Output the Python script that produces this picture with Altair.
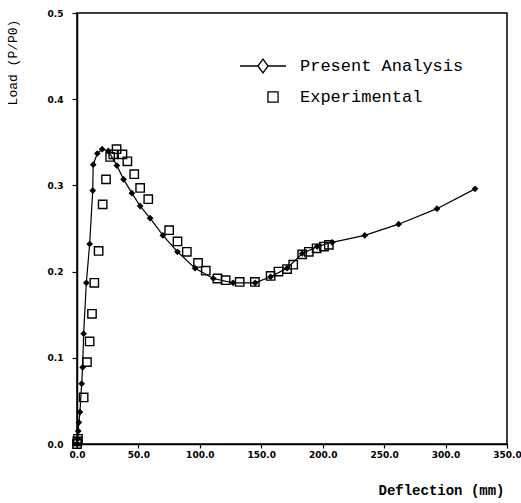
import altair as alt
import pandas as pd

# Present Analysis (line with diamonds)
pa_x = [0, 0.5, 1.0, 1.5, 2.4, 3.8, 4.6, 5.4, 7.6, 10.3, 12.8, 13.2, 16.5, 20.5, 25.5,
        32.5, 37.9, 44.7, 51.4, 59.5, 69.9, 81.8, 96.1, 111.0, 127.0, 145.0, 157.6,
        171.0, 183.3, 195.5, 207.7, 234.2, 261.8, 293.0, 324.0]
pa_y = [0.0, 0.006, 0.015, 0.025, 0.037, 0.070, 0.089, 0.128, 0.187, 0.232, 0.294, 0.324,
        0.337, 0.342, 0.340, 0.323, 0.307, 0.291, 0.276, 0.262, 0.242, 0.223, 0.204, 0.192,
        0.187, 0.187, 0.194, 0.204, 0.221, 0.229, 0.234, 0.242, 0.255, 0.273, 0.296]

# Experimental (open squares)
ex_x = [0, 0.3, 0.8, 5.4, 8.1, 10.3, 12.2, 14.1, 17.6, 20.9, 23.6, 27.0, 29.5, 32.2, 37.0,
        41.0, 46.6, 51.4, 58.0, 75.0, 81.8, 89.4, 98.5, 104.8, 114.3, 121.0, 132.4, 144.8,
        157.6, 164.0, 171.0, 176.0, 183.3, 188.7, 195.0, 201.0, 205.0]
ex_y = [0.0, 0.003, 0.006, 0.054, 0.095, 0.119, 0.151, 0.187, 0.224, 0.278, 0.307, 0.333,
        0.336, 0.342, 0.336, 0.328, 0.313, 0.297, 0.284, 0.248, 0.235, 0.223, 0.210, 0.201,
        0.192, 0.190, 0.188, 0.188, 0.195, 0.200, 0.203, 0.208, 0.220, 0.223, 0.227, 0.229, 0.231]

series_names = ["Present Analysis", "Experimental"]
x_ticks = [0, 50, 100, 150, 200, 250, 300, 350]
y_ticks = [0.0, 0.1, 0.2, 0.3, 0.4, 0.5]

pa = pd.DataFrame({"x": pa_x, "y": pa_y, "series": series_names[0]})
ex = pd.DataFrame({"x": ex_x, "y": ex_y, "series": series_names[1]})
both = pd.concat([pa, ex], ignore_index=True)

legend_paths = [
    "M-2,0L-0.44,0L0,-0.6L0.44,0L0,0.6L-0.44,0ZM0.44,0L2,0",
    "M0.43,-0.44L1.31,-0.44L1.31,0.44L0.43,0.44Z",
]

xenc = alt.X("x:Q", scale=alt.Scale(domain=[0, 350], nice=False),
             axis=alt.Axis(values=x_ticks, format=".1f", title="Deflection (mm)",
                           titleX=364, titleY=46, titleAlign="center",
                           titleBaseline="middle", titleFont="Liberation Mono",
                           titleFontSize=14, titleFontWeight="bold",
                           labelPadding=2, tickSize=4, labelFlush=False,
                           labelOverlap=False))
yenc = alt.Y("y:Q", scale=alt.Scale(domain=[0, 0.5], nice=False),
             axis=alt.Axis(values=y_ticks, format=".1f", title="Load (P/P0)",
                           titleX=-65, titleY=49, titleAngle=270, titleAlign="center",
                           titleBaseline="middle", titleFont="Liberation Mono",
                           titleFontSize=13, titleFontWeight="normal",
                           labelPadding=9, tickSize=5, labelFlush=False,
                           labelOverlap=False))

line = alt.Chart(pa).mark_line(color="black", strokeWidth=1.2).encode(x=xenc, y=yenc)
dia = alt.Chart(pa).mark_point(shape="diamond", filled=True, color="black", size=45,
                               opacity=1).encode(x="x:Q", y="y:Q")
sq = alt.Chart(ex).mark_point(shape="square", filled=False, color="black", size=70,
                              strokeWidth=1.4, opacity=1).encode(x="x:Q", y="y:Q")

leg = alt.Chart(both).transform_filter("false").mark_point(
    filled=False, color="black", strokeWidth=1.3, opacity=1
).encode(
    x="x:Q", y="y:Q",
    shape=alt.Shape("series:N",
                    scale=alt.Scale(domain=series_names, range=legend_paths),
                    legend=alt.Legend(title=None, orient="none", legendX=173.5, legendY=40.5,
                                      symbolSize=529, symbolStrokeWidth=1.3,
                                      symbolStrokeColor="black", symbolFillColor="white",
                                      symbolOpacity=1,
                                      labelFont="Liberation Mono", labelFontSize=17,
                                      labelColor="black", labelOffset=24.5, labelLimit=400,
                                      rowPadding=9, padding=0)),
)

chart = alt.layer(line, dia, sq, leg).properties(
    width=430, height=431,
    autosize=alt.AutoSizeParams(type="none"),
    padding={"left": 77, "top": 13, "right": 14, "bottom": 59},
    background="white",
).configure_view(
    stroke="black", strokeWidth=1.5
).configure_axis(
    grid=False, domainColor="black", domainWidth=1.5, tickColor="black", tickWidth=1.2,
    labelFont="DejaVu Sans", labelFontWeight="bold", labelFontSize=9, labelColor="black",
    titleColor="black"
)

chart.save("out.html", embed_options={"renderer": "svg", "actions": False})
